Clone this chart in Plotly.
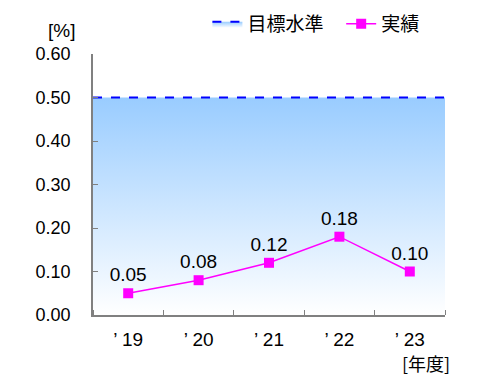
import plotly.graph_objects as go

years = ["’ 19", "’ 20", "’ 21", "’ 22", "’ 23"]
actual = [0.05, 0.08, 0.12, 0.18, 0.10]
target = 0.50
y_ticks = [0.0, 0.1, 0.2, 0.3, 0.4, 0.5, 0.6]

num_font = "Liberation Sans, Arial, sans-serif"
jp_font = "Noto Sans CJK JP, sans-serif"
axis_gray = "#808080"

idx = list(range(len(years)))
edges = [i - 0.5 for i in range(len(years) + 1)]

fig = go.Figure()

fig.add_trace(go.Scatter(
    x=[edges[0], edges[-1]], y=[target, target],
    mode="lines", name="目標水準   ",
    line=dict(color="#0000FF", width=2, dash="dash"),
    fill="tozeroy",
    fillgradient=dict(type="vertical", start=0, stop=target,
                      colorscale=[[0, "#FFFFFF"], [1, "#99CCFF"]]),
    hoverinfo="skip",
))

fig.add_trace(go.Scatter(
    x=idx, y=actual, mode="lines+markers+text", name="実績",
    line=dict(color="#FF00FF", width=1.5),
    marker=dict(symbol="square", size=10, color="#FF00FF"),
    text=[f"{v:.2f}" for v in actual],
    textposition="top center",
    textfont=dict(family=num_font, size=19, color="#000000"),
))

# page body has an 8px default margin; size the figure so the plot area lands where the reference has it
fig.update_layout(
    width=492, height=378,
    margin=dict(l=85, r=55, t=46, b=71, autoexpand=False),
    paper_bgcolor="white", plot_bgcolor="white",
    font=dict(family=jp_font, size=17, color="#000000"),
    legend=dict(orientation="h", x=0.325, xanchor="left", y=1.115, yanchor="middle",
                font=dict(family=jp_font, size=19), bgcolor="rgba(0,0,0,0)",
                itemwidth=30, tracegroupgap=0),
    showlegend=True,
)

fig.update_xaxes(
    range=[edges[0], edges[-1]],
    tickvals=idx, ticktext=years, ticks="",
    tickfont=dict(family=num_font, size=19),
    showgrid=False, zeroline=False, automargin=False,
    showline=True, linecolor=axis_gray, linewidth=1.5,
    minor=dict(tickvals=edges, ticks="inside", ticklen=5, tickcolor=axis_gray, tickwidth=1, showgrid=False),
    ticklabelstandoff=6,
)
fig.update_yaxes(
    range=[0, 0.6],
    tickvals=y_ticks, ticktext=[f"{v:.2f}" for v in y_ticks],
    ticks="inside", ticklen=5, tickcolor=axis_gray,
    tickfont=dict(family=num_font, size=18),
    showgrid=False, zeroline=False, automargin=False,
    showline=True, linecolor=axis_gray, linewidth=1.5,
    ticklabelstandoff=17,
)

fig.add_annotation(text="[%]", xref="paper", yref="paper", x=-0.09, y=1.09,
                   xanchor="center", yanchor="middle", showarrow=False,
                   font=dict(family=num_font, size=19))
fig.add_annotation(text="[年度]", xref="paper", yref="paper", x=0.945, y=-0.182,
                   xanchor="center", yanchor="middle", showarrow=False,
                   font=dict(family=jp_font, size=18))

fig.write_html("out.html")
